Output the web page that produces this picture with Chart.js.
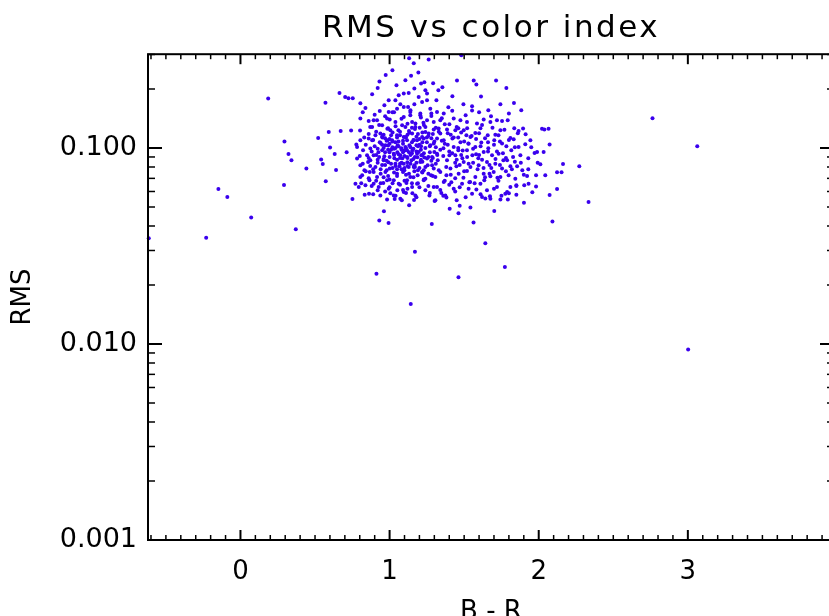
<!DOCTYPE html>
<html>
<head>
<meta charset="utf-8">
<script src="https://cdn.jsdelivr.net/npm/chart.js@4.4.1/dist/chart.umd.min.js"></script>
<style>
  html, body { margin: 0; padding: 0; background: #fff; overflow: hidden; }
  #wrap { width: 850px; height: 630px; }
</style>
</head>
<body>
<div id="wrap"><canvas id="c" width="850" height="630"></canvas></div>
<script>
// ---- chart texts and ticks ----
const chartTitle = 'RMS vs color index';
const xTitle = 'B - R';
const yTitle = 'RMS';
const xTickValues = [0, 1, 2, 3];
const xTickLabels = ['0', '1', '2', '3'];
const yTickValues = [0.001, 0.01, 0.1];
const yTickLabels = ['0.001', '0.010', '0.100'];
const xRange = [-0.62, 3.98];
const yRange = [0.001, 0.301];

// ---- data: [B - R, RMS] ----
const sparsePoints = [
  [-0.615,0.0346],[-0.230,0.0348],[-0.148,0.0618],[-0.088,0.0562],[0.072,0.0442],[0.186,0.179],
  [0.292,0.0647],[0.295,0.108],[0.322,0.0932],[0.342,0.0865],[0.371,0.0385],[0.442,0.0785],
  [0.521,0.1125],[0.541,0.0873],[0.552,0.0829],[0.570,0.170],[0.572,0.0676],[0.592,0.1207],
  [0.601,0.1005],[0.632,0.0932],[0.641,0.0772],[0.664,0.191],[0.672,0.1222],[0.702,0.1822],
  [0.712,0.0951],[0.724,0.1795],[0.742,0.1227],[0.751,0.0549],[0.753,0.1795],[0.777,0.1041],
  [0.802,0.1227],[0.883,0.188],[0.912,0.0228],[0.920,0.2025],[0.932,0.2184],[0.931,0.0427],
  [0.962,0.0475],[0.993,0.0414],[0.974,0.236],[1.131,0.287],[1.162,0.271],[1.193,0.243],
  [1.144,0.234],[1.262,0.283],[1.481,0.297],[1.142,0.0160],[1.170,0.0296],[1.283,0.0409],
  [1.462,0.0219],[1.563,0.0417],[1.642,0.0327],[1.773,0.0247],[2.092,0.0422],[2.334,0.0530],
  [2.763,0.1418],[3.063,0.1020],[3.002,0.00938]
];
const clusterEdgePoints = [
  [2.123,0.0618],[2.073,0.0576],[2.163,0.0829],[2.272,0.0806],[2.123,0.0751],[2.153,0.0751],
  [2.022,0.1253],[2.038,0.1244],[2.066,0.1253],[2.073,0.1041],[1.989,0.0954],[1.972,0.0943],
  [2.033,0.0954],[1.993,0.0841],[2.011,0.0825],[1.982,0.0725],[1.922,0.0719],[1.903,0.0645],
  [1.932,0.0658],[1.982,0.0637],[1.901,0.0526],[1.702,0.0477],[1.542,0.0497],[1.403,0.0490],
  [1.462,0.0464],[1.131,0.0510],[0.833,0.0577],[0.862,0.0584],[1.034,0.0549],[1.082,0.0541],
  [1.164,0.0543],[1.302,0.0537],[1.381,0.0559],[1.450,0.0541],[1.470,0.0508],[1.642,0.0553],
  [1.673,0.0567],[1.743,0.0546],[1.793,0.0546],[1.850,0.0577],[1.800,0.0588],[1.776,0.0584]
];
const clusterUpperPoints = [
  [1.211,0.2133],[1.233,0.2166],[1.292,0.2141],[1.354,0.2042],[1.452,0.2210],[1.564,0.2210],
  [1.582,0.2108],[1.714,0.2210],[1.783,0.2025],[1.613,0.1830],[1.834,0.1698],[1.883,0.1558],
  [1.553,0.1635],[1.553,0.1555],[1.394,0.1616],[0.994,0.1752],[1.039,0.1752],[1.061,0.1858],
  [1.128,0.1910],[1.195,0.1822],[1.240,0.1971],[1.251,0.1752],[1.124,0.1621],[1.095,0.1621],
  [0.934,0.1546],[0.994,0.1528],[1.050,0.1588],[0.860,0.1374],[0.893,0.1385],[1.001,0.1396],
  [1.139,0.1469],[1.206,0.1469],[1.273,0.1588],[1.318,0.1528],[1.095,0.1897],[1.218,0.1718],
  [1.251,0.1897],[1.139,0.1528],[1.206,0.1499],[1.363,0.1499],[1.430,0.1413],[1.475,0.1385],
  [1.519,0.1358],[1.586,0.1332],[1.631,0.1396],[1.676,0.1358],[1.720,0.1385],[1.754,0.1374],
  [1.792,0.1385],[1.865,0.1222],[1.895,0.1257],[1.912,0.1175],[1.810,0.1125],[1.832,0.1108],
  [1.754,0.1053],[1.783,0.1020],[1.865,0.1012],[1.910,0.1044],[1.658,0.1161],[1.709,0.1170],
  [1.575,0.1192],[1.542,0.1138],[1.497,0.1231],[1.441,0.1231],[1.385,0.1241],[1.340,0.1185],
  [1.296,0.1241],[1.240,0.1280],[1.173,0.1332],[1.106,0.1280]
];
const clusterRightPoints = [
  [1.106,0.1138],[1.162,0.1095],[1.229,0.1117],[1.296,0.1053],[1.363,0.1095],[1.430,0.1012],
  [1.475,0.1070],[1.519,0.0973],[1.575,0.1012],[1.631,0.0954],[1.687,0.0918],[1.731,0.0936],
  [1.788,0.0865],[1.828,0.0900],[1.877,0.0918],[1.117,0.0973],[1.184,0.0936],[1.251,0.0883],
  [1.318,0.0936],[1.385,0.0865],[1.441,0.0918],[1.497,0.0848],[1.542,0.0800],[1.597,0.0816],
  [1.653,0.0848],[1.709,0.0832],[1.754,0.0785],[1.810,0.0806],[1.855,0.0806],[1.095,0.0832],
  [1.162,0.0800],[1.229,0.0769],[1.285,0.0816],[1.340,0.0755],[1.408,0.0785],[1.463,0.0740],
  [1.519,0.0763],[1.575,0.0711],[1.631,0.0740],[1.698,0.0755],[1.743,0.0711],[1.798,0.0725],
  [1.843,0.0697],[1.117,0.0684],[1.184,0.0658],[1.240,0.0697],[1.296,0.0632],[1.363,0.0670],
  [1.430,0.0620],[1.486,0.0658],[1.530,0.0620],[1.609,0.0658],[1.653,0.0608],[1.720,0.0632],
  [1.788,0.0596],[1.810,0.0632],[1.095,0.0596],[1.173,0.0573],[1.240,0.0608],[1.307,0.0541],
  [1.374,0.0573],[1.553,0.0584],[1.620,0.0562],[1.676,0.0551]
];
const clusterCorePoints = [
  [0.782,0.0883],[0.804,0.0816],[0.816,0.0725],[0.771,0.0658],[0.793,0.0632],[0.838,0.0645],
  [0.871,0.0993],[0.883,0.1095],[0.893,0.0918],[0.905,0.0800],[0.916,0.0711],[0.927,0.0632],
  [0.920,0.0608],[0.938,0.1185],[0.950,0.0973],[0.960,0.0865],[0.972,0.0755],[0.983,0.0684],
  [0.994,0.0620],[1.005,0.1231],[1.017,0.1095],[1.028,0.0936],[1.039,0.0832],[1.050,0.0740],
  [1.061,0.0658],[1.072,0.0551],[1.084,0.1306],[1.095,0.1138],[1.106,0.1012],[1.117,0.0900],
  [1.128,0.0800],[1.139,0.0711],[1.151,0.0632],[1.173,0.1280],[1.184,0.1095],[1.195,0.0954],
  [1.206,0.0848],[1.218,0.0755],[1.229,0.0684],[1.251,0.1385],[1.262,0.1185],[1.273,0.1032],
  [1.285,0.0900],[1.296,0.0785],[1.307,0.0711],[1.318,0.0632],[1.329,0.1257],[0.856,0.0848],
  [0.893,0.0755],[0.934,0.1070],[0.972,0.1032],[1.001,0.0785],[1.028,0.0684],[1.054,0.1032],
  [1.072,0.0918],[1.090,0.0755],[1.113,0.0662],[1.144,0.0936],[1.166,0.0816],[1.188,0.0725],
  [1.211,0.1020],[1.233,0.0894],[1.255,0.0816],[1.278,0.0725],[1.300,0.0954],[1.323,0.0865],
  [0.804,0.0711],[0.867,0.0755],[0.893,0.0658],[0.938,0.0573],[0.983,0.0546],[1.028,0.0573],
  [0.883,0.1280],[0.916,0.1385],[0.950,0.1306],[0.983,0.1413],[1.039,0.1358],[1.095,0.1440],
  [1.151,0.1358],[1.202,0.1270],[1.240,0.1207],[1.296,0.1358],[1.318,0.1117],[0.804,0.1095],
  [0.822,0.0973],[0.782,0.1012],[0.849,0.0918],[0.860,0.1117],[0.905,0.1161],[0.987,0.1095],
  [1.050,0.1161],[1.117,0.1095],[1.151,0.1185],[1.218,0.1138]
];
const clusterDensePoints = [
  [1.019,0.1008],[1.052,0.0951],[1.086,0.0886],[1.119,0.0846],[1.153,0.0973],[1.186,0.0897],
  [1.066,0.0806],[1.099,0.0769],[1.133,0.1032],[1.166,0.0760],[1.200,0.0790],[1.032,0.0886],
  [0.999,0.0951],[0.965,0.0907],[0.992,0.0846],[1.039,0.1070],[1.079,0.0997],[1.146,0.0865],
  [1.180,0.1032],[1.213,0.0918],[1.361,0.0997],[1.401,0.0918],[1.421,0.1118],[1.461,0.0973],
  [1.488,0.0886],[1.528,0.1055],[1.555,0.0918],[1.595,0.0886],[1.615,0.1067],[1.662,0.0997],
  [1.682,0.0790],[1.723,0.0705],[1.763,0.0865],[1.816,0.0973],[1.381,0.0725],[1.414,0.0668],
  [1.448,0.0806],[1.495,0.0705],[1.535,0.0668],[1.582,0.0615],[1.635,0.0684],[1.676,0.0717],
  [1.347,0.0590],[1.267,0.0573],[1.200,0.0630],[1.153,0.0587],[1.052,0.0608],[1.005,0.0587],
  [0.958,0.0662],[0.865,0.0684],[0.831,0.0769],[0.871,0.0865],[0.925,0.0951],[0.952,0.1130],
  [0.985,0.1253],[1.059,0.1231],[1.133,0.1196],[1.227,0.1345],[1.280,0.1455],[1.340,0.1385],
  [1.401,0.1321],[1.461,0.1260],[1.515,0.1161],[1.609,0.1260],[1.702,0.1095],[1.743,0.1231],
  [1.836,0.1260],[1.944,0.1095],[1.930,0.0886],[1.890,0.0769],[1.957,0.0594],[2.044,0.0725],
  [1.850,0.0645],[1.019,0.1520],[1.072,0.1671],[0.965,0.1652],[0.838,0.1598],[0.804,0.1414],
  [1.166,0.1671],[1.314,0.1752],[1.421,0.1838],[1.495,0.1671],[1.662,0.1558],[1.743,0.1671],
  [1.327,0.1971],[1.046,0.2090],[1.106,0.2217],[1.019,0.2494],[1.166,0.2013],[0.804,0.1690]
];
const clusterFillPoints = [
  [0.87,0.128],[0.93,0.131],[0.99,0.126],[1.04,0.129],[1.12,0.133],[1.17,0.125],[1.23,0.131],
  [1.31,0.127],[1.37,0.132],[1.45,0.128],[1.52,0.126],[1.62,0.131],[1.69,0.127],[1.77,0.124],
  [0.86,0.118],[0.91,0.121],[0.96,0.117],[1.02,0.120],[1.07,0.116],[1.13,0.122],[1.19,0.118],
  [1.26,0.115],[1.33,0.121],[1.41,0.117],[1.48,0.120],[1.55,0.115],[1.60,0.119],[1.73,0.116],
  [1.86,0.119],[0.83,0.113],[0.89,0.110],[0.95,0.114],[1.00,0.111],[1.06,0.108],[1.11,0.113],
  [1.16,0.110],[1.22,0.107],[1.28,0.112],[1.35,0.109],[1.43,0.113],[1.50,0.108],[1.58,0.111],
  [1.66,0.107],[1.80,0.110],[0.84,0.104],[0.90,0.102],[0.94,0.106],[0.99,0.103],[1.04,0.100],
  [1.09,0.105],[1.14,0.101],[1.20,0.104],[1.25,0.107],[1.31,0.101],[1.39,0.104],[1.46,0.100],
  [1.53,0.105],[1.61,0.102],[1.70,0.104],[1.95,0.101],[0.88,0.096],[0.92,0.099],[0.97,0.095],
  [1.01,0.098],[1.06,0.093],[1.10,0.097],[1.15,0.094],[1.21,0.098],[1.27,0.095],[1.34,0.098],
  [1.42,0.094],[1.49,0.097],[1.58,0.093],[1.66,0.096],[1.76,0.094],[0.80,0.091],[0.86,0.089],
  [0.91,0.092],[0.96,0.088],[1.00,0.090],[1.05,0.087],[1.10,0.091],[1.16,0.088],[1.22,0.092],
  [1.29,0.089],[1.36,0.091],[1.45,0.087],[1.52,0.090],[1.60,0.092],[1.71,0.088],[1.84,0.085],
  [0.82,0.083],[0.87,0.081],[0.92,0.084],[0.97,0.082],[1.02,0.079],[1.07,0.083],[1.12,0.081],
  [1.18,0.084],[1.24,0.080],[1.31,0.083],[1.38,0.080],[1.47,0.082],[1.56,0.084],[1.63,0.079],
  [1.74,0.082],[0.84,0.076],[0.89,0.078],[0.94,0.074],[0.98,0.077],[1.03,0.075],[1.08,0.078],
  [1.13,0.074],[1.19,0.077],[1.26,0.074],[1.33,0.077],[1.41,0.073],[1.50,0.076],[1.59,0.078],
  [1.67,0.074],[1.78,0.076],[1.90,0.073],[0.86,0.070],[0.91,0.068],[0.96,0.071],[1.00,0.069],
  [1.05,0.072],[1.10,0.068],[1.16,0.071],[1.23,0.069],[1.29,0.072],[1.37,0.068],[1.44,0.070],
  [1.54,0.067],[1.64,0.071],[1.73,0.068],[0.81,0.066],[0.88,0.064],[0.94,0.066],[1.00,0.063],
  [1.07,0.065],[1.12,0.062],[1.19,0.066],[1.26,0.064],[1.34,0.061],[1.40,0.065],[1.47,0.063],
  [1.57,0.066],[1.70,0.062],[1.85,0.064],[0.89,0.058],[0.97,0.060],[1.04,0.057],[1.11,0.059],
  [1.18,0.056],[1.27,0.059],[1.36,0.057],[1.44,0.060],[1.51,0.056],[1.61,0.058],[1.75,0.057],
  [0.90,0.148],[0.97,0.145],[1.03,0.152],[1.08,0.141],[1.14,0.156],[1.21,0.143],[1.28,0.150],
  [1.35,0.142],[1.42,0.155],[1.51,0.147],[1.60,0.152],[1.68,0.145],[1.80,0.150],[0.82,0.152],
  [0.96,0.100],[1.00,0.105],[1.03,0.092],[1.08,0.098],[1.12,0.089],[1.15,0.107],[1.18,0.096],
  [1.22,0.085],[1.24,0.100],[0.98,0.086],[1.04,0.081],[1.10,0.079],[1.14,0.092],[1.20,0.111],
  [1.09,0.109],[1.01,0.116],[0.95,0.082],[1.26,0.090]
];
const clusterBlobPoints = [
  [0.93,0.090],[0.95,0.104],[0.97,0.112],[0.99,0.098],[1.01,0.083],[1.02,0.108],[1.03,0.099],
  [1.05,0.113],[1.06,0.102],[1.07,0.089],[1.08,0.084],[1.09,0.095],[1.11,0.100],[1.12,0.117],
  [1.13,0.095],[1.14,0.083],[1.16,0.099],[1.17,0.090],[1.18,0.114],[1.19,0.102],[1.21,0.087],
  [1.23,0.094],[1.25,0.113],[1.27,0.102],[1.28,0.086],[1.30,0.108],[1.32,0.092],[0.94,0.078],
  [0.99,0.072],[1.05,0.078],[1.11,0.073],[1.17,0.080],[1.22,0.075],[1.02,0.066],[1.09,0.061],
  [1.15,0.066],[0.92,0.087],[0.98,0.109],[1.07,0.121],[1.15,0.127],[1.22,0.120],[1.29,0.118],
  [1.37,0.105],[1.40,0.096],[1.44,0.084],[1.48,0.092],[1.53,0.083],[1.56,0.099],[1.62,0.087],
  [1.67,0.082],[1.72,0.096],[1.78,0.089],[1.82,0.078],[1.88,0.084],[1.93,0.078],[1.39,0.119],
  [1.46,0.113],[1.64,0.112],[1.74,0.108],[1.84,0.101]
];

const allPoints = [].concat(sparsePoints, clusterEdgePoints, clusterUpperPoints,
  clusterRightPoints, clusterCorePoints, clusterDensePoints, clusterFillPoints, clusterBlobPoints);

const FONT = "'DejaVu Sans', 'Noto Sans', sans-serif";

// IDL-like frame with inward ticks on all four sides, placed through the scales
const frameTicks = {
  id: 'frameTicks',
  afterDatasetsDraw(chart) {
    const { ctx, chartArea: a, scales: { x, y } } = chart;
    ctx.save();
    ctx.strokeStyle = '#000';
    const seg = (x1, y1, x2, y2, w) => {
      ctx.lineWidth = w;
      ctx.beginPath(); ctx.moveTo(x1, y1); ctx.lineTo(x2, y2); ctx.stroke();
    };
    for (let k = Math.ceil(x.min * 10 - 1e-9); k <= Math.floor(x.max * 10 + 1e-9); k++) {
      const px = x.getPixelForValue(k / 10);
      const major = k % 10 === 0;
      const len = major ? 10 : 5;
      const w = major ? 2 : 1.5;
      seg(px, a.bottom, px, a.bottom - len, w);
      seg(px, a.top, px, a.top + len, w);
    }
    for (let e = -3; e <= 0; e++) {
      for (let m = 1; m <= 9; m++) {
        const v = m * Math.pow(10, e);
        if (v < y.min * 0.9999 || v > y.max * 1.0001) continue;
        const py = y.getPixelForValue(v);
        const len = m === 1 ? 14 : 7;
        const w = m === 1 ? 2 : 1.5;
        seg(a.left, py, a.left + len, py, w);
        seg(a.right, py, a.right - len, py, w);
      }
    }
    ctx.lineWidth = 2;
    ctx.strokeRect(a.left, a.top, a.right - a.left, a.bottom - a.top);
    ctx.restore();
  }
};

// wider letter spacing for the title, as in the original plot
const titleSpacing = {
  id: 'titleSpacing',
  afterInit(chart) {
    const tb = chart.titleBlock;
    if (!tb) return;
    const orig = tb.draw.bind(tb);
    tb.draw = function () {
      const c = chart.ctx;
      c.save();
      c.letterSpacing = '2.5px';
      orig();
      c.restore();
    };
  }
};

new Chart(document.getElementById('c'), {
  type: 'scatter',
  data: {
    datasets: [{
      label: 'RMS',
      data: allPoints.map(p => ({ x: p[0], y: p[1] })),
      pointRadius: 2,
      pointBorderWidth: 0,
      pointBackgroundColor: 'rgb(58,0,238)',
      pointBorderColor: 'rgb(58,0,238)',
      pointHoverRadius: 2,
      clip: false
    }]
  },
  options: {
    responsive: false,
    animation: false,
    events: [],
    layout: { padding: { left: 0, right: 16, top: 0, bottom: 0 } },
    plugins: {
      legend: { display: false },
      tooltip: { enabled: false },
      title: {
        display: true,
        text: chartTitle,
        fullSize: false,
        color: '#000',
        font: { family: FONT, size: 31, weight: 'normal', lineHeight: 1.2 },
        padding: { top: 10, bottom: 7 }
      }
    },
    scales: {
      x: {
        type: 'linear',
        min: xRange[0],
        max: xRange[1],
        grid: { display: false, drawTicks: false },
        border: { display: false },
        afterBuildTicks: s => { s.ticks = xTickValues.map(v => ({ value: v })); },
        afterFit: s => { s.height = 90; },
        ticks: {
          autoSkip: false,
          maxRotation: 0,
          padding: 17,
          color: '#000',
          font: { family: FONT, size: 26, lineHeight: 1.2 },
          callback: (v, i) => xTickLabels[i]
        },
        title: {
          display: true,
          text: xTitle,
          color: '#000',
          font: { family: FONT, size: 26, lineHeight: 1 },
          padding: { top: 0, bottom: 5 }
        }
      },
      y: {
        type: 'logarithmic',
        min: yRange[0],
        max: yRange[1],
        grid: { display: false, drawTicks: false },
        border: { display: false },
        afterBuildTicks: s => { s.ticks = yTickValues.map(v => ({ value: v })); },
        afterFit: s => { s.width = 148; },
        ticks: {
          autoSkip: false,
          padding: 11,
          color: '#000',
          font: { family: FONT, size: 27, lineHeight: 1.2 },
          callback: (v, i) => yTickLabels[i]
        },
        title: {
          display: true,
          text: yTitle,
          color: '#000',
          font: { family: FONT, size: 26, lineHeight: 1.2 },
          padding: { top: 8, bottom: 0 }
        }
      }
    }
  },
  plugins: [frameTicks, titleSpacing]
});
</script>
</body>
</html>
